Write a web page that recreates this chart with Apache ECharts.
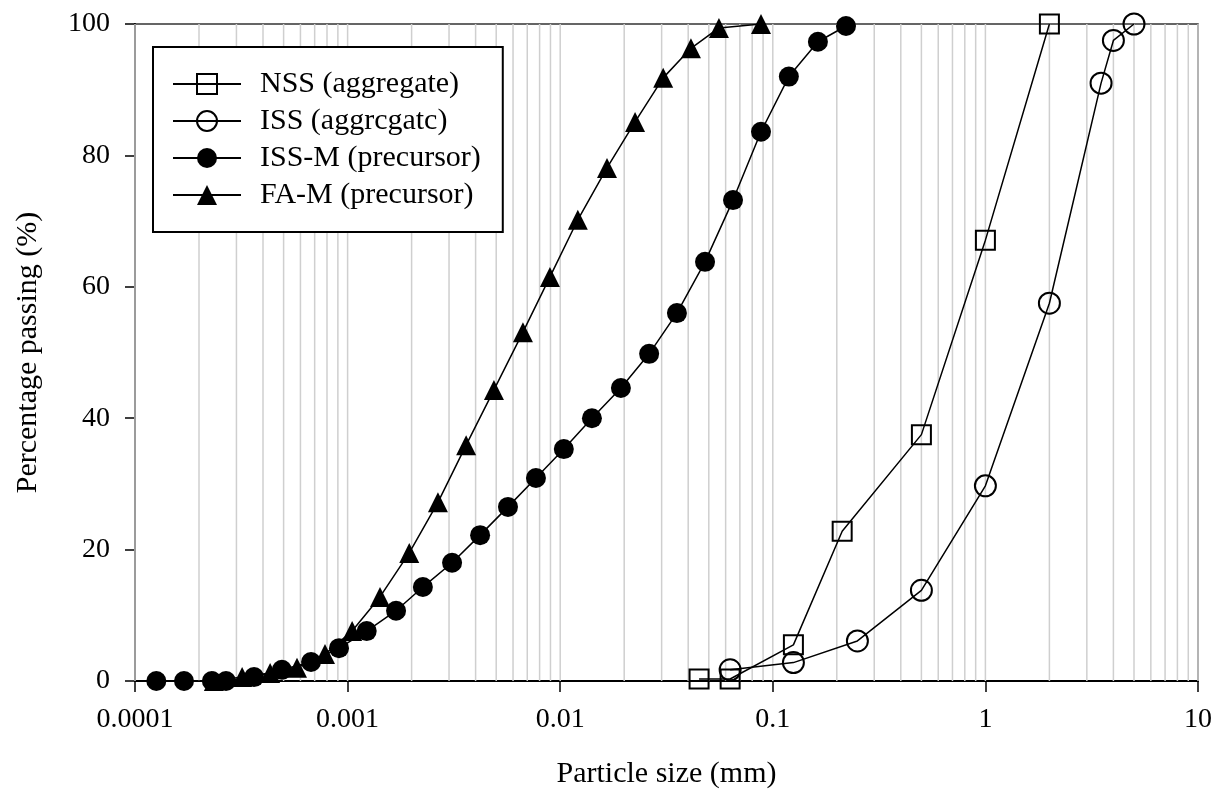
<!DOCTYPE html>
<html>
<head>
<meta charset="utf-8">
<script src="https://cdn.jsdelivr.net/npm/echarts@6/dist/echarts.min.js"></script>
<style>
html,body{margin:0;padding:0;background:#fff;}
#chart{width:1215px;height:793px;}
</style>
</head>
<body>
<div id="chart"></div>
<script>
// ---- data ----
const xTickLabels = ['0.0001', '0.001', '0.01', '0.1', '1', '10'];
const yTicks = [0, 20, 40, 60, 80, 100];

const nssX = [0.045, 0.063, 0.125, 0.212, 0.5, 1, 2];
const nssY = [0.3, 0.3, 5.5, 22.8, 37.5, 67.1, 100];

const issX = [0.063, 0.125, 0.25, 0.5, 1, 2, 3.5, 4, 5];
const issY = [1.7, 2.8, 6.1, 13.8, 29.7, 57.5, 91.0, 97.5, 100];

const issmX = [0.000126, 0.00017, 0.00023, 0.000268, 0.000363, 0.000491, 0.000673, 0.000911,
  0.00123, 0.00169, 0.00226, 0.0031, 0.0042, 0.00568, 0.00769, 0.0104, 0.0141, 0.0193,
  0.0262, 0.0354, 0.048, 0.065, 0.088, 0.119, 0.163, 0.221];
const issmY = [0, 0, 0, 0, 0.6, 1.7, 2.9, 5.0, 7.6, 10.7, 14.3, 18.0, 22.2, 26.5, 30.9,
  35.3, 40.0, 44.6, 49.8, 56.0, 63.8, 73.2, 83.6, 92.0, 97.3, 99.7];

const famX = [0.000235, 0.000319, 0.000432, 0.000578, 0.000783, 0.00105, 0.00142, 0.00195,
  0.00266, 0.00361, 0.00488, 0.00668, 0.00895, 0.0121, 0.0166, 0.0225, 0.0305, 0.0412,
  0.0558, 0.088];
const famY = [0, 0.6, 1.2, 2.0, 4.1, 7.6, 12.8, 19.5, 27.2, 35.9, 44.3, 53.1, 61.5, 70.2,
  78.1, 85.1, 91.8, 96.3, 99.4, 100];

const seriesNames = ['NSS (aggregate)', 'ISS (aggrcgatc)', 'ISS-M (precursor)', 'FA-M (precursor)'];

// gridline positions (log decades and their 2..9 multiples)
const decades = [0.0001, 0.001, 0.01, 0.1, 1];
const multipliers = [1, 2, 3, 4, 5, 6, 7, 8, 9];

// ---- build ----
const pair = (xs, ys) => xs.map((x, i) => [x, ys[i]]);
const gridVals = [];
decades.forEach(d => multipliers.forEach(m => gridVals.push(+(d * m).toPrecision(3))));
gridVals.push(10);

const FONT = '"Liberation Serif", "Times New Roman", serif';
const chart = echarts.init(document.getElementById('chart'), null, {renderer: 'canvas'});

const lineStyle = {color: '#000', width: 1.5};
const openStyle = {color: 'rgba(0,0,0,0)', borderColor: '#000', borderWidth: 2};
const fillStyle = {color: '#000', borderColor: '#000', borderWidth: 0};
const yMin = yTicks[0], yMax = yTicks[yTicks.length - 1];

chart.setOption({
  animation: false,
  backgroundColor: '#fff',
  grid: {
    left: 135, right: 17, top: 24, bottom: 112,
    containLabel: false, outerBoundsMode: 'none',
    show: true, borderColor: '#333', borderWidth: 1.5, backgroundColor: 'rgba(0,0,0,0)'
  },
  legend: {
    data: seriesNames,
    orient: 'vertical',
    left: 153, top: 47,
    padding: [22, 22, 22, 19],
    borderColor: '#000', borderWidth: 2,
    backgroundColor: '#fff',
    itemWidth: 68, itemHeight: 25, itemGap: 7,
    selectedMode: false,
    textStyle: {fontFamily: FONT, fontSize: 30, color: '#000', lineHeight: 30, padding: [0, 0, 0, 14]}
  },
  xAxis: {
    type: 'log', logBase: 10, min: 0.0001, max: 10,
    name: 'Particle size (mm)', nameLocation: 'middle', nameGap: 78,
    nameTextStyle: {fontFamily: FONT, fontSize: 30, color: '#000'},
    axisLine: {show: true, lineStyle: {color: '#000', width: 2}},
    axisTick: {show: true, length: 11, lineStyle: {color: '#000', width: 1.5}},
    axisLabel: {
      margin: 25, fontFamily: FONT, fontSize: 28, color: '#000',
      formatter: v => xTickLabels[Math.round(Math.log10(v)) + 4]
    },
    splitLine: {show: false},
    minorTick: {show: false}, minorSplitLine: {show: false}
  },
  yAxis: {
    type: 'value', min: yMin, max: yMax, interval: 20,
    name: 'Percentage passing (%)', nameLocation: 'middle', nameGap: 92,
    nameTextStyle: {fontFamily: FONT, fontSize: 30, color: '#000'},
    axisLine: {show: true, lineStyle: {color: '#000', width: 2}},
    axisTick: {show: true, length: 10, lineStyle: {color: '#000', width: 1.5}},
    axisLabel: {margin: 25, fontFamily: FONT, fontSize: 28, color: '#000'},
    splitLine: {show: false}
  },
  series: [
    {
      type: 'custom', name: '_grid', z: 1, silent: true,
      data: gridVals.map(v => [v, yMin]),
      encode: {x: 0, y: 1},
      renderItem: (params, api) => {
        const v = api.value(0);
        const p0 = api.coord([v, yMin]);
        const p1 = api.coord([v, yMax]);
        return {
          type: 'line',
          shape: {x1: p0[0], y1: p0[1], x2: p1[0], y2: p1[1]},
          style: {stroke: '#cfcfcf', lineWidth: 1.5}
        };
      }
    },
    {
      type: 'line', name: seriesNames[0], data: pair(nssX, nssY), z: 3,
      symbol: 'rect', symbolSize: 19, showAllSymbol: true,
      lineStyle: lineStyle, itemStyle: openStyle, emphasis: {disabled: true}
    },
    {
      type: 'line', name: seriesNames[1], data: pair(issX, issY), z: 3,
      symbol: 'circle', symbolSize: 21, showAllSymbol: true,
      lineStyle: lineStyle, itemStyle: openStyle, emphasis: {disabled: true}
    },
    {
      type: 'line', name: seriesNames[2], data: pair(issmX, issmY), z: 3,
      symbol: 'circle', symbolSize: 20, showAllSymbol: true,
      lineStyle: lineStyle, itemStyle: fillStyle, emphasis: {disabled: true}
    },
    {
      type: 'line', name: seriesNames[3], data: pair(famX, famY), z: 4,
      symbol: 'triangle', symbolSize: 20, showAllSymbol: true,
      lineStyle: lineStyle, itemStyle: fillStyle, emphasis: {disabled: true}
    }
  ]
});
</script>
</body>
</html>
